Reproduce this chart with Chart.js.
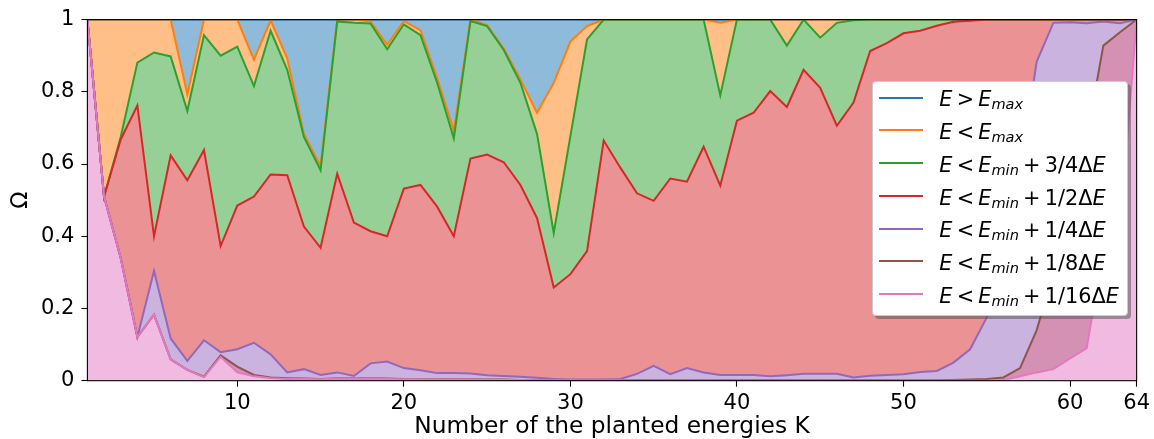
<!DOCTYPE html>
<html>
<head>
<meta charset="utf-8">
<script src="https://cdn.jsdelivr.net/npm/chart.js@4.4.1/dist/chart.umd.min.js"></script>
<style>
  html, body { margin: 0; padding: 0; background: #fff; }
  #wrap { position: relative; width: 1154px; height: 439px; }
  canvas { display: block; }
  #legend {
    position: absolute; left: 871.7px; top: 81px; width: 256.6px; height: 234.7px;
    box-sizing: border-box; background: #fff; border: 1px solid #cccccc; border-radius: 4px;
    box-shadow: 3px 3px 0 rgba(77,77,77,0.5);
    font-family: 'DejaVu Sans', sans-serif; font-size: 20.8px; color: #000;
  }
  #legend .h { position: absolute; left: 6.6px; width: 43.3px; height: 2px; }
  #legend .t { position: absolute; left: 66.6px; line-height: 20.8px; white-space: nowrap; word-spacing: -2.4px; }
  #legend sub { font-size: 70%; vertical-align: -3px; line-height: 0; }
</style>
</head>
<body>
<div id="wrap">
  <canvas id="c" width="1154" height="439"></canvas>
  <div id="legend"></div>
</div>
<script>
// Number of planted energies
const K = [1,2,3,4,5,6,7,8,9,10,11,12,13,14,15,16,17,18,19,20,21,22,23,24,25,26,27,28,29,30,31,32,
           33,34,35,36,37,38,39,40,41,42,43,44,45,46,47,48,49,50,51,52,53,54,55,56,57,58,59,60,61,62,63,64];

const xTicks = [10, 20, 30, 40, 50, 60, 64];
const yTicks = [0, 0.2, 0.4, 0.6, 0.8, 1];

// Cumulative fractions Ω for each energy threshold
const aboveMax = [1,1,1,1,1,1,1,1,1,1,1,1,1,1,1,1,1,1,1,1,1,1,1,1,1,1,1,1,1,1,1,1,
                  1,1,1,1,1,1,1,1,1,1,1,1,1,1,1,1,1,1,1,1,1,1,1,1,1,1,1,1,1,1,1,1];

const belowMax = [1,1,1,1,1,1,0.793,1,1,1,0.889,0.998,0.893,0.683,0.594,1,
                  1,0.995,0.93,0.996,0.971,0.838,0.692,1,0.985,0.92,0.834,0.742,0.825,0.939,0.982,1,
                  1,1,1,1,1,1,0.991,1,1,1,1,1,1,1,1,1,
                  1,1,1,1,1,1,1,1,1,1,1,1,1,1,1,1];

const belowMin34 = [1,0.51,0.675,0.881,0.909,0.898,0.747,0.957,0.9,0.925,0.816,0.969,0.861,0.675,0.583,0.995,
                    0.991,0.989,0.918,0.987,0.957,0.825,0.671,0.996,0.982,0.916,0.825,0.683,0.409,0.677,0.945,1,
                    1,1,1,1,1,1,0.79,1,1,1,0.928,1,0.95,0.991,0.998,1,
                    1,1,1,1,1,1,1,1,1,1,1,1,1,1,1,1];

const belowMin12 = [1,0.51,0.668,0.762,0.4,0.624,0.555,0.639,0.373,0.485,0.51,0.571,0.569,0.427,0.368,0.573,
                    0.438,0.414,0.4,0.532,0.542,0.482,0.4,0.615,0.626,0.605,0.542,0.45,0.258,0.295,0.359,0.665,
                    0.59,0.519,0.498,0.56,0.551,0.648,0.54,0.72,0.742,0.802,0.758,0.861,0.811,0.706,0.77,0.913,
                    0.935,0.962,0.969,0.983,0.994,0.997,1,1,1,1,1,1,1,1,1,1];

const belowMin14 = [1,0.51,0.34,0.121,0.304,0.117,0.055,0.112,0.079,0.087,0.105,0.073,0.023,0.032,0.016,0.023,
                    0.013,0.048,0.053,0.035,0.029,0.021,0.021,0.02,0.015,0.013,0.011,0.008,0.005,0.003,0.003,0.003,
                    0.005,0.019,0.041,0.018,0.035,0.023,0.016,0.016,0.016,0.012,0.015,0.019,0.019,0.019,0.009,0.014,
                    0.016,0.018,0.024,0.027,0.05,0.087,0.175,0.37,0.58,0.884,0.991,0.993,0.99,0.995,0.99,1];

const belowMin18 = [1,0.51,0.34,0.121,0.183,0.059,0.03,0.011,0.07,0.039,0.016,0.009,0.007,0.006,0.005,0.007,
                    0.006,0.007,0.006,0.005,0.005,0.004,0.004,0.004,0.003,0.003,0.002,0.002,0.001,0.001,0.001,0.001,
                    0.001,0.001,0.001,0.001,0.001,0.001,0.001,0.001,0.001,0.001,0.001,0.001,0.001,0.001,0.001,0.001,
                    0.001,0.001,0.001,0.001,0.002,0.003,0.005,0.009,0.035,0.14,0.3,0.47,0.67,0.928,0.965,1];

const belowMin116 = [1,0.51,0.34,0.121,0.183,0.059,0.03,0.01,0.066,0.023,0.012,0.007,0.005,0.005,0.004,0.006,
                     0.005,0.006,0.005,0.004,0.004,0.003,0.003,0.003,0.002,0.002,0.002,0.001,0.001,0.001,0.001,0.001,
                     0.001,0,0,0,0,0,0,0,0,0,0,0,0,0,0,0,
                     0,0,0,0,0,0,0,0.002,0.012,0.023,0.032,0.062,0.09,0.36,0.42,1];

const seriesLabels = ['E > E_{max}', 'E < E_{max}', 'E < E_{min} + 3/4ΔE', 'E < E_{min} + 1/2ΔE',
                      'E < E_{min} + 1/4ΔE', 'E < E_{min} + 1/8ΔE', 'E < E_{min} + 1/16ΔE'];

const series = [aboveMax, belowMax, belowMin34, belowMin12, belowMin14, belowMin18, belowMin116];

// Styles
const lineColors = ['#1f77b4', '#ff7f0e', '#2ca02c', '#d62728', '#9467bd', '#8c564b', '#e377c2'];
const fillColors = ['rgb(143,187,218)', 'rgb(255,191,135)', 'rgb(150,208,150)', 'rgb(235,147,148)',
                    'rgb(202,179,222)', 'rgb(212,145,180)', 'rgb(241,187,225)'];

const FONT = 'DejaVu Sans';
const TICK_FS = 21;
const LABEL_FS = 23.3;
Chart.defaults.font.family = FONT;
Chart.defaults.font.size = TICK_FS;
Chart.defaults.color = '#000';

// Render a label such as "E < E_{min} + 1/2ΔE" with italic variables and subscripts
function mathToHTML(s) {
  let out = '';
  let i = 0;
  while (i < s.length) {
    const c = s[i];
    if (c === '_' && s[i + 1] === '{') {
      const j = s.indexOf('}', i);
      out += '<sub>' + mathToHTML(s.slice(i + 2, j)) + '</sub>';
      i = j + 1;
      continue;
    }
    if (/[A-Za-z]/.test(c)) out += '<i>' + c + '</i>';
    else if (c === '<') out += '&lt;';
    else if (c === '>') out += '&gt;';
    else out += c;
    i++;
  }
  return out;
}

const htmlLegend = {
  id: 'htmlLegend',
  afterUpdate(chart) {
    const box = document.getElementById('legend');
    box.innerHTML = '';
    const rowGap = 32.7;
    chart.data.datasets.forEach((ds, i) => {
      const h = document.createElement('div');
      h.className = 'h';
      h.style.background = ds.borderColor;
      h.style.top = (15.7 + rowGap * i - 1) + 'px';
      box.appendChild(h);
      const t = document.createElement('div');
      t.className = 't';
      t.style.top = (7.4 + rowGap * i) + 'px';
      t.innerHTML = mathToHTML(ds.label);
      box.appendChild(t);
    });
  }
};

const frame = {
  id: 'frame',
  afterDatasetsDraw(chart) {
    const {ctx, chartArea: a} = chart;
    ctx.save();
    ctx.strokeStyle = '#000';
    ctx.lineWidth = 1.1;
    ctx.strokeRect(a.left, a.top, a.right - a.left, a.bottom - a.top);
    ctx.restore();
  }
};

const datasets = series.map((vals, i) => ({
  label: seriesLabels[i],
  data: K.map((k, j) => ({x: k, y: vals[j]})),
  borderColor: lineColors[i],
  backgroundColor: fillColors[i],
  borderWidth: 2,
  pointRadius: 0,
  tension: 0,
  fill: i < series.length - 1 ? '+1' : 'origin',
  order: series.length - i,
  clip: 0
}));

const tickGrid = { drawOnChartArea: false, tickLength: 6, tickColor: '#000', tickWidth: 1.1 };

new Chart(document.getElementById('c'), {
  type: 'line',
  data: { datasets },
  options: {
    responsive: false,
    animation: false,
    events: [],
    layout: { padding: { left: 0, right: 14.5, top: 15.7, bottom: 0 } },
    plugins: {
      legend: { display: false },
      tooltip: { enabled: false },
      filler: { drawTime: 'beforeDatasetsDraw', propagate: false }
    },
    scales: {
      x: {
        type: 'linear', min: 1, max: 64,
        afterBuildTicks: s => { s.ticks = xTicks.map(v => ({value: v})); },
        afterFit: s => { s.height = 58.3; },
        ticks: { color: '#000', padding: 4, maxRotation: 0, autoSkip: false },
        grid: tickGrid,
        border: { display: false },
        title: { display: true, text: 'Number of the planted energies K', color: '#000',
                 font: { size: LABEL_FS }, padding: { top: 0, bottom: -2 } }
      },
      y: {
        min: 0, max: 1,
        afterBuildTicks: s => { s.ticks = yTicks.map(v => ({value: v})); },
        afterFit: s => { s.width = 87.4; },
        ticks: { color: '#000', padding: 7, callback: v => String(+Number(v).toFixed(1)) },
        grid: tickGrid,
        border: { display: false },
        title: { display: true, text: 'Ω', color: '#000', font: { size: 22.5 }, padding: { top: 8, bottom: 0 } }
      }
    }
  },
  plugins: [htmlLegend, frame]
});
</script>
</body>
</html>
